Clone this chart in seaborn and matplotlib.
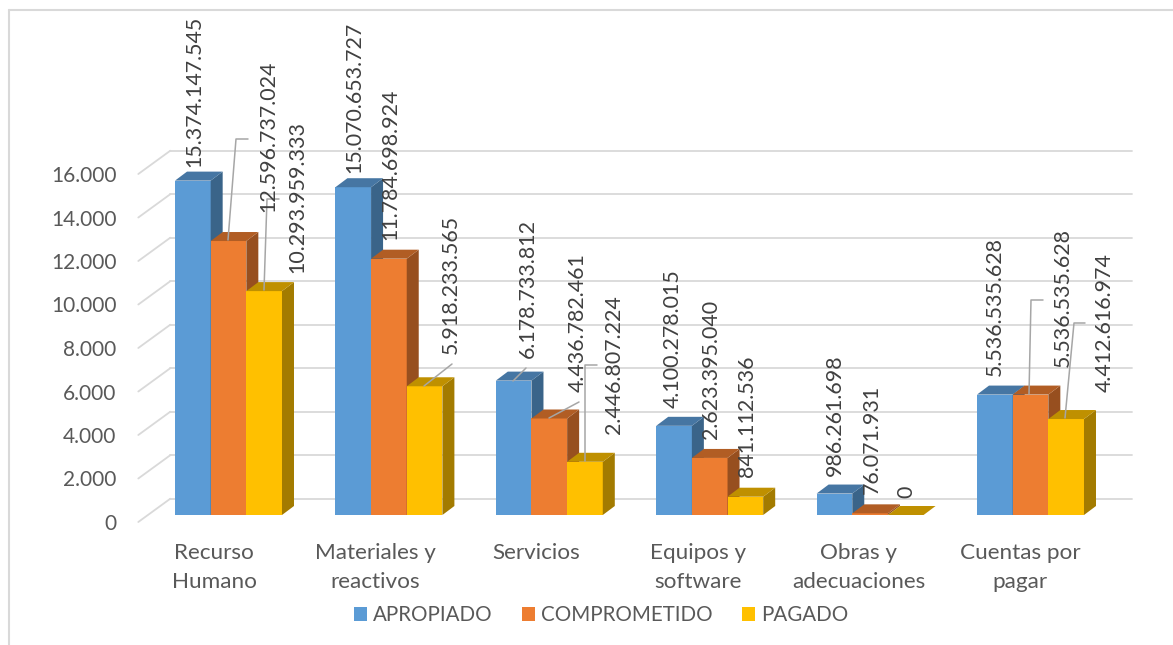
import pandas as pd
import matplotlib
matplotlib.use("Agg")
import matplotlib.pyplot as plt
from matplotlib.lines import Line2D
from matplotlib.patches import Polygon
from matplotlib.transforms import ScaledTranslation
import seaborn as sns

categories = ["Recurso\nHumano", "Materiales y\nreactivos", "Servicios",
              "Equipos y\nsoftware", "Obras y\nadecuaciones", "Cuentas por\npagar"]
apropiado = [15374147545, 15070653727, 6178733812, 4100278015, 986261698, 5536535628]
comprometido = [12596737024, 11784698924, 4436782461, 2623395040, 76071931, 5536535628]
pagado = [10293959333, 5918233565, 2446807224, 841112536, 0, 4412616974]
y_ticks = [0, 2000, 4000, 6000, 8000, 10000, 12000, 14000, 16000]

W, H = 1173, 645
CAT_PX = 160.4          # px between groups
VAL_PX = 21.75 / 1000   # px per unit on the y axis
LEFT, BOTTOM = 148.3, 515

sns.set_style("white")
plt.rcParams["font.family"] = ["Lato", "DejaVu Sans"]
TXT = "#595959"

df = pd.DataFrame({"rubro": categories, "APROPIADO": apropiado,
                   "COMPROMETIDO": comprometido, "PAGADO": pagado})
df = df.melt(id_vars="rubro", var_name="serie", value_name="pesos")
df["millones"] = df["pesos"] / 1e6

fig = plt.figure(figsize=(W / 100, H / 100), dpi=100)
ax = fig.add_axes([LEFT / W, 1 - BOTTOM / H, CAT_PX * 6 / W, 16000 * VAL_PX / H])
palette = {"APROPIADO": "#5B9BD5", "COMPROMETIDO": "#ED7D31", "PAGADO": "#FFC000"}
top_col = ["#4676A3", "#B15D24", "#BF9000"]
side_col = ["#3A6489", "#974F1F", "#A37B00"]
sns.barplot(data=df, x="rubro", y="millones", hue="serie", palette=palette,
            saturation=1, width=0.667, gap=0, ax=ax)
ax.set_xlim(-0.5, 5.5)
ax.set_ylim(0, 16000)
ax.set_xlabel("")
ax.set_ylabel("")
sns.despine(ax=ax, left=True, bottom=True)


def dx(px):
    return px / CAT_PX


def dy(px):
    return px / VAL_PX


def fpx(x, y):
    return x / W, 1 - y / H


# 3d faces of the bars, built from the bars themselves
for i, bars in enumerate(ax.containers):
    for b in bars:
        b.set_zorder(3 + i)
        b.set_clip_on(False)
        b.set_edgecolor("none")
        x0, x1, h = b.get_x(), b.get_x() + b.get_width(), b.get_height()
        ox, oy = dx(12), dy(9)
        ax.add_patch(Polygon([(x1, 0), (x1 + ox, oy), (x1 + ox, h + oy), (x1, h)],
                             fc=side_col[i], ec="none", zorder=3 + i, clip_on=False))
        ax.add_patch(Polygon([(x0, h), (x1, h), (x1 + ox, h + oy), (x0 + ox, h + oy)],
                             fc=top_col[i], ec="none", zorder=3 + i, clip_on=False))

# back wall and side wall grid
grid_col = "#D9D9D9"
for v in y_ticks:
    ax.plot([-0.5 + dx(22), -0.5 + dx(984)], [v + dy(16.3)] * 2, color=grid_col, lw=1.3,
            clip_on=False, zorder=1)
    ax.plot([-0.5 + dx(-10), -0.5 + dx(22)], [v + dy(-7), v + dy(16.3)], color=grid_col, lw=1.3,
            clip_on=False, zorder=1)

ax.set_yticks(y_ticks, [f"{v:,}".replace(",", ".") for v in y_ticks])
ax.tick_params(axis="y", length=0, pad=23, labelsize=15, labelcolor=TXT)
ax.tick_params(axis="x", length=0, pad=20.5, labelsize=16.2, labelcolor=TXT)
for lab in ax.get_yticklabels():
    lab.set_transform(lab.get_transform() + ScaledTranslation(0, -7 / 100, fig.dpi_scale_trans))
for i, lab in enumerate(ax.get_xticklabels()):
    shift = -14.5 + 0.8 * i
    lab.set_transform(lab.get_transform() + ScaledTranslation(shift / 100, 0, fig.dpi_scale_trans))
    lab.set_linespacing(1.52)

sns.move_legend(ax, "center", bbox_to_anchor=fpx(601, 615), bbox_transform=fig.transFigure,
                ncol=3, title=None, frameon=False, fontsize=14.8, labelcolor=TXT,
                handlelength=0.65, handleheight=0.65, handletextpad=0.3, columnspacing=1.4,
                borderpad=0, borderaxespad=0)
for h in ax.get_legend().get_patches():
    h.set_edgecolor("none")

# data labels, hand placed like the original
label_x = [194, 268, 297, 354, 390, 451, 528, 578, 614, 673, 711, 747, 835, 872, 906, 995, 1063, 1105]
label_y = [167, 212, 273, 173, 240, 354, 358, 392, 434, 408, 439, 477, 476, 494, 498, 376, 367, 392]
values = [s[i] for i in range(6) for s in (apropiado, comprometido, pagado)]
for v, lx, ly in zip(values, label_x, label_y):
    fig.text(*fpx(lx, ly), f"{v:,}".replace(",", "."), rotation=90, ha="center", va="bottom",
             fontsize=15.4, color="#404040")

# leader lines
leaders = [[(228, 240), (236, 139), (248, 139)], [(264, 290), (267, 199), (279, 199)],
           [(424, 386), (452, 364)], [(513, 381), (526, 368)], [(549, 418), (579, 402)],
           [(585, 461), (585, 365), (597, 365)], [(1029, 394), (1031, 300), (1043, 300)],
           [(1065, 418), (1074, 323), (1085, 323)]]
for pts in leaders:
    xs, ys = zip(*[fpx(*p) for p in pts])
    fig.add_artist(Line2D(xs, ys, color="#A6A6A6", lw=1.1))

# outer frame of the pasted chart
for a, b in [((9, 645), (9, 10)), ((9, 10), (1173, 10))]:
    xs, ys = zip(fpx(*a), fpx(*b))
    fig.add_artist(Line2D(xs, ys, color="#D9D9D9", lw=1.5))

fig.savefig("out.png", dpi=100)
